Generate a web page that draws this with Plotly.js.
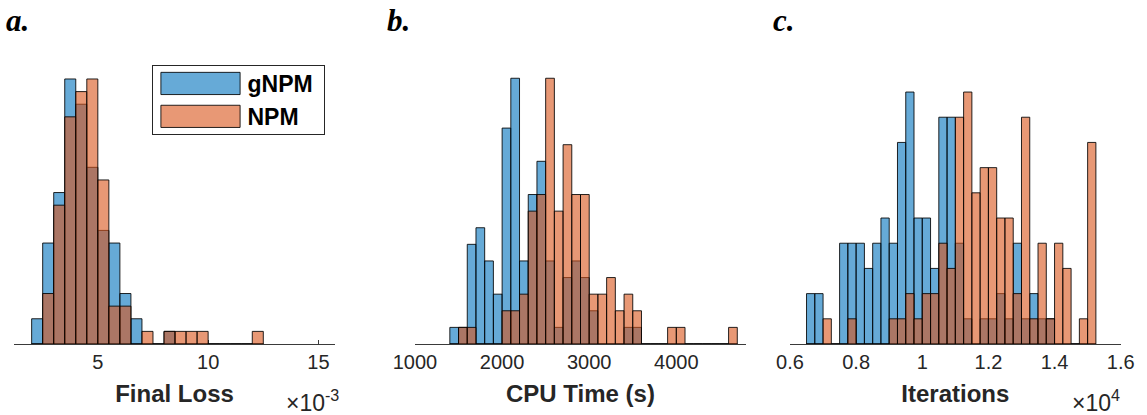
<!DOCTYPE html>
<html><head><meta charset="utf-8">
<script src="https://cdn.plot.ly/plotly-3.0.1.min.js"></script>
<style>html,body{margin:0;padding:0;background:#fff}#chart{width:1147px;height:415px}</style>
</head><body><div id="chart"></div>
<script>
// ---- Panel a: Final Loss (bin width 0.5e-3) ----
const lossBinStart = [0.0020,0.0025,0.0030,0.0035,0.0040,0.0045,0.0050,0.0055,0.0060,0.0065,0.0070,0.0075,0.0080,0.0085,0.0090,0.0095,0.0100,0.0105,0.0110,0.0115,0.0120];
const lossGNPM = [2,8,12,21,19,14,9,8,4,2,0,0,1,0,0,0,0,0,0,0,0];
const lossNPM  = [0,4,11,18,20,21,13,3,3,0,1,0,1,1,1,1,0,0,0,0,1];
const lossBinWidth = 0.0005;
const lossTickVals = [0.005,0.010,0.015];
const lossTickText = ['5','10','15'];

// ---- Panel b: CPU Time (bin width 100 s) ----
const cpuBinStart = [1400,1500,1600,1700,1800,1900,2000,2100,2200,2300,2400,2500,2600,2700,2800,2900,3000,3100,3200,3300,3400,3500,3600,3700,3800,3900,4000,4100,4200,4300,4400,4500,4600];
const cpuGNPM = [1,1,6,7,5,3,13,16,5,9,11,5,1,4,5,4,2,0,0,0,1,1,0,0,0,0,0,0,0,0,0,0,0];
const cpuNPM  = [0,1,1,0,0,0,2,2,3,8,9,16,8,12,9,9,3,3,4,2,3,2,0,0,0,1,1,0,0,0,0,0,1];
const cpuBinWidth = 100;
const cpuTickVals = [1000,2000,3000,4000];
const cpuTickText = ['1000','2000','3000','4000'];

// ---- Panel c: Iterations (bin width 250) ----
const iterBinStart = [6500,6750,7000,7250,7500,7750,8000,8250,8500,8750,9000,9250,9500,9750,10000,10250,10500,10750,11000,11250,11500,11750,12000,12250,12500,12750,13000,13250,13500,13750,14000,14250,14500,14750,15000];
const iterGNPM = [2,2,0,0,4,4,4,3,4,5,4,8,10,5,5,3,9,9,4,1,0,1,1,2,1,4,1,2,1,1,0,0,0,0,0];
const iterNPM  = [0,0,1,0,0,1,0,0,0,0,1,1,2,1,2,2,4,3,9,10,6,7,7,5,5,2,9,1,4,1,4,3,0,1,8];
const iterBinWidth = 250;
const iterTickVals = [6000,8000,10000,12000,14000,16000];
const iterTickText = ['0.6','0.8','1','1.2','1.4','1.6'];

const seriesNames = ['gNPM','NPM'];
const BLUE = 'rgba(0,114,189,0.6)';
const ORANGE = 'rgba(217,83,25,0.6)';
const EDGE = 'rgba(0,0,0,0.85)';

function hist(x, y, w, name, color, xa, ya, show) {
  return {type:'bar', x:x, y:y, width:w, offset:0, name:name, xaxis:xa, yaxis:ya,
    showlegend:show, hoverinfo:'skip',
    marker:{color:color, line:{color:EDGE, width:1}}};
}

const data = [
  hist(lossBinStart, lossGNPM, lossBinWidth, seriesNames[0], BLUE, 'x', 'y', true),
  hist(lossBinStart, lossNPM, lossBinWidth, seriesNames[1], ORANGE, 'x', 'y', true),
  hist(cpuBinStart, cpuGNPM, cpuBinWidth, seriesNames[0], BLUE, 'x2', 'y2', false),
  hist(cpuBinStart, cpuNPM, cpuBinWidth, seriesNames[1], ORANGE, 'x2', 'y2', false),
  hist(iterBinStart, iterGNPM, iterBinWidth, seriesNames[0], BLUE, 'x3', 'y3', false),
  hist(iterBinStart, iterNPM, iterBinWidth, seriesNames[1], ORANGE, 'x3', 'y3', false)
];

const W = 1147, H = 415;
const px = v => v / W;
const py = v => (H - v) / H;
const AX = '#262626';
const tickFont = {family:'Liberation Sans, Arial, sans-serif', size:20, color:AX};
const titleFont = {family:'Liberation Sans, Arial, sans-serif', size:24, color:AX, weight:'bold'};

function xax(domain, range, tv, tt, title) {
  return {domain:domain, range:range, tickmode:'array', tickvals:tv, ticktext:tt,
    showline:true, linecolor:'#3a3a3a', linewidth:1, ticks:'inside', ticklen:4, tickcolor:'#3a3a3a',
    showgrid:false, zeroline:false, layer:'below traces', tickfont:tickFont, fixedrange:true,
    title:{text:title, font:titleFont, standoff:13}};
}
function yax(range, anchor) {
  return {domain:[py(344), py(55)], range:range, visible:false, fixedrange:true, anchor:anchor};
}

const letterFont = {family:'Liberation Serif, Times New Roman, serif', size:31, color:'#000'};
const expFont = {family:'Liberation Sans, Arial, sans-serif', size:23, color:AX};

const layout = {
  width:W, height:H, margin:{l:0,r:0,t:0,b:0},
  paper_bgcolor:'#fff', plot_bgcolor:'rgba(0,0,0,0)',
  barmode:'overlay', bargap:0,
  xaxis: xax([px(14), px(335)], [0.00120, 0.01575], lossTickVals, lossTickText, '<b>Final Loss</b>'),
  xaxis2: xax([px(415), px(746)], [1000, 4800], cpuTickVals, cpuTickText, '<b>CPU Time (s)</b>'),
  xaxis3: xax([px(790), px(1120.7)], [6000, 16000], iterTickVals, iterTickText, '<b>Iterations</b>'),
  yaxis: yax([0, 22.9], 'x'),
  yaxis2: yax([0, 17.4], 'x2'),
  yaxis3: yax([0, 11.47], 'x3'),
  legend:{x:px(152), y:py(61), xanchor:'left', yanchor:'top', bgcolor:'#fff',
    bordercolor:'#262626', borderwidth:1, itemwidth:80,
    font:{family:'Liberation Sans, Arial, sans-serif', size:23, color:'#000', weight:'bold'}},
  annotations:[
    {xref:'paper', yref:'paper', x:px(4), y:py(20), xanchor:'left', yanchor:'middle', showarrow:false, text:'<b><i>a.</i></b>', font:letterFont},
    {xref:'paper', yref:'paper', x:px(385), y:py(20), xanchor:'left', yanchor:'middle', showarrow:false, text:'<b><i>b.</i></b>', font:letterFont},
    {xref:'paper', yref:'paper', x:px(771), y:py(20), xanchor:'left', yanchor:'middle', showarrow:false, text:'<b><i>c.</i></b>', font:letterFont},
    {xref:'paper', yref:'paper', x:px(341), y:py(384), xanchor:'right', yanchor:'top', showarrow:false, text:'×10<sup>-3</sup>', font:expFont},
    {xref:'paper', yref:'paper', x:px(1122), y:py(384), xanchor:'right', yanchor:'top', showarrow:false, text:'×10<sup>4</sup>', font:expFont}
  ]
};

Plotly.newPlot('chart', data, layout, {staticPlot:true, displayModeBar:false}).then(function(gd){
  const leg = gd.querySelector('.legend');
  const bg = leg.querySelector('rect.bg');
  bg.setAttribute('width', 172);
  bg.setAttribute('height', 69);
  bg.setAttribute('y', (parseFloat(bg.getAttribute('y')) || 0) + 4);
  const lr = bg.getBoundingClientRect();
  // widen legend swatches to MATLAB-like rectangles at the legend's left
  leg.querySelectorAll('.legendpoints path').forEach(function(p){
    p.style.vectorEffect = 'non-scaling-stroke';
    p.setAttribute('transform', 'scale(6.6,1.85)');
    const r = p.getBoundingClientRect();
    const tx = (lr.left + 48) - (r.left + r.width / 2);
    p.setAttribute('transform', 'translate(' + tx + ',0) scale(6.6,1.85)');
  });
  // leave a small gap between swatch and label text
  leg.querySelectorAll('text.legendtext').forEach(function(t){
    const r = t.getBoundingClientRect();
    const dx = (lr.left + 95) - r.left;
    t.setAttribute('x', (parseFloat(t.getAttribute('x')) || 0) + dx);
  });
});
</script>
</body></html>
